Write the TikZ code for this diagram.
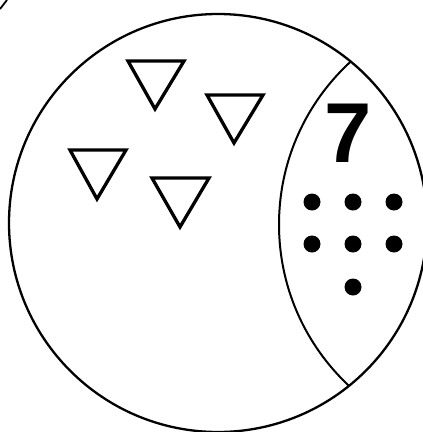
\documentclass[tikz,border=0pt]{standalone}
\usepackage{fontspec}
\setmainfont{Liberation Sans}
\begin{document}
\begin{tikzpicture}[x=1pt,y=-1pt,
  tri/.style={draw=black,line width=3.3pt,line join=miter},
  rim/.style={draw=black,line width=2.3pt},
  dot/.style={circle,fill=black,inner sep=0pt,minimum size=17pt}]
\useasboundingbox (0,0) rectangle (423,432);
\clip (0,0) rectangle (423,432);
% outer circle
\coordinate (c) at (218,223);
\draw[rim] (c) circle[radius=209pt];
% inner arc (clipped by the outer circle)
\begin{scope}
  \clip (c) circle[radius=209pt];
  \draw[line width=2pt] (500,224.5) circle[radius=221pt];
\end{scope}
% corner fragment
\draw[line width=1.8pt] (0,9) -- (7,0);
% triangles
\draw[tri] (128,61) -- (184,61) -- (155,109) -- cycle;
\draw[tri] (207,95) -- (263,95) -- (234,143) -- cycle;
\draw[tri] (70,150) -- (126,150) -- (97,199) -- cycle;
\draw[tri] (152,178) -- (209,178) -- (180,227) -- cycle;
% number
\node[font=\fontsize{85}{85}\selectfont\bfseries,inner sep=0pt] (n) at (348,133) {7};
% dots
\node[dot] (d1) at (312,202) {};
\node[dot] (d2) at (353,202) {};
\node[dot] (d3) at (394,202) {};
\node[dot] (d4) at (312,244) {};
\node[dot] (d5) at (353,244) {};
\node[dot] (d6) at (394,244) {};
\node[dot] (d7) at (353,287) {};
\end{tikzpicture}
\end{document}
